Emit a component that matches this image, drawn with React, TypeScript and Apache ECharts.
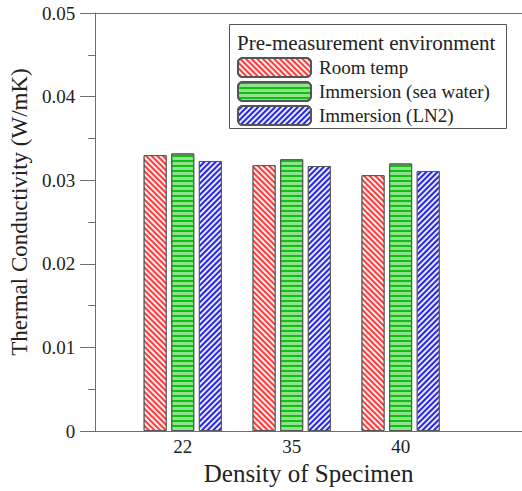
import React, { useEffect, useRef } from "react";
import * as echarts from "echarts";

const categories = ["22", "35", "40"];
const seriesNames = ["Room temp", "Immersion (sea water)", "Immersion (LN2)"];
const roomTemp = [0.033, 0.0318, 0.0306];
const seaWater = [0.0332, 0.0325, 0.032];
const ln2 = [0.0323, 0.0317, 0.0311];
const yTicks = [0, 0.01, 0.02, 0.03, 0.04, 0.05];
const legendTitle = "Pre-measurement environment";

const FONT = "Liberation Serif";
const AXIS_COLOR = "#6e6e6e";

export default function App() {
  const ref = useRef<HTMLDivElement>(null);
  useEffect(() => {
    document.body.style.margin = "0";
    if (!ref.current) return;
    const chart = echarts.init(ref.current, null, { renderer: "svg" });
    const positions = categories.map((_, i) => i + 1);
    const mk = (vals: number[]) => vals.map((v, i) => [positions[i], v]);
    const styles = [
      {
        color: "#ff3b3b",
        decal: {
          symbol: "rect",
          symbolSize: 1,
          dashArrayX: [1, 0],
          dashArrayY: [2, 2],
          rotation: Math.PI / 4,
          color: "rgba(255,255,255,0.9)",
        },
      },
      {
        color: "#8fe38f",
        decal: {
          symbol: "rect",
          symbolSize: 1,
          dashArrayX: [1, 0],
          dashArrayY: [1.5, 2.5],
          rotation: 0,
          color: "#10c010",
        },
      },
      {
        color: "#2626e8",
        decal: {
          symbol: "rect",
          symbolSize: 1,
          dashArrayX: [1, 0],
          dashArrayY: [2, 2],
          rotation: -Math.PI / 4,
          color: "rgba(255,255,255,0.9)",
        },
      },
    ];
    const data = [roomTemp, seaWater, ln2];
    const xMin = 0.196;
    const xMax = 4.114;
    chart.setOption({
      animation: false,
      grid: { left: 93, right: 0, top: 13, bottom: 58, containLabel: false },
      xAxis: [
        {
          type: "value",
          min: xMin,
          max: xMax,
          name: "Density of Specimen",
          nameLocation: "middle",
          nameGap: 30,
          nameTextStyle: { fontFamily: FONT, fontSize: 25, color: "#222" },
          axisLine: { show: true, lineStyle: { color: AXIS_COLOR, width: 1 } },
          axisTick: { show: false },
          splitLine: { show: false },
          axisLabel: {
            customValues: positions,
            formatter: (v: number) => categories[Math.round(v) - 1] ?? "",
            fontFamily: FONT,
            fontSize: 19,
            color: "#222",
            margin: 6,
          },
        },
        {
          type: "value",
          position: "top",
          min: xMin,
          max: xMax,
          axisLine: { show: true, onZero: false, lineStyle: { color: AXIS_COLOR, width: 1 } },
          axisTick: { show: false },
          axisLabel: { show: false },
          splitLine: { show: false },
        },
      ],
      yAxis: {
        type: "value",
        min: yTicks[0],
        max: yTicks[yTicks.length - 1],
        interval: 0.01,
        name: "Thermal Conductivity (W/mK)",
        nameLocation: "middle",
        nameGap: 60,
        nameTextStyle: { fontFamily: FONT, fontSize: 23, color: "#222", padding: [0, 0, 0, 20] },
        axisLine: { show: true, lineStyle: { color: AXIS_COLOR, width: 1 } },
        axisTick: { show: true, inside: false, length: 15, lineStyle: { color: AXIS_COLOR } },
        minorTick: { show: true, splitNumber: 2, length: 7, lineStyle: { color: AXIS_COLOR } },
        splitLine: { show: false },
        axisLabel: {
          fontFamily: FONT,
          fontSize: 19,
          color: "#222",
          margin: 20,
        },
      },
      legend: {
        orient: "vertical",
        left: 237,
        top: 57,
        itemWidth: 73,
        itemHeight: 19,
        itemGap: 3,
        padding: 0,
        textStyle: { fontFamily: FONT, fontSize: 19, color: "#222", padding: [0, 0, 0, 3] },
        data: seriesNames,
      },
      graphic: [
        {
          type: "rect",
          shape: { x: 229.5, y: 24.5, width: 277, height: 104 },
          style: { fill: "none", stroke: "#555", lineWidth: 1 },
          z: 10,
        },
        {
          type: "text",
          x: 237,
          y: 43,
          style: {
            text: legendTitle,
            fontFamily: FONT,
            fontSize: 21,
            fill: "#222",
            verticalAlign: "middle",
          },
          z: 10,
        },
      ],
      series: seriesNames.map((name, i) => ({
        name,
        type: "bar",
        data: mk(data[i]),
        barWidth: 23,
        barGap: "20%",
        itemStyle: {
          ...styles[i],
          borderColor: "#555",
          borderWidth: 1,
        },
      })),
    });
    return () => chart.dispose();
  }, []);
  return <div ref={ref} style={{ width: 522, height: 491 }} />;
}
